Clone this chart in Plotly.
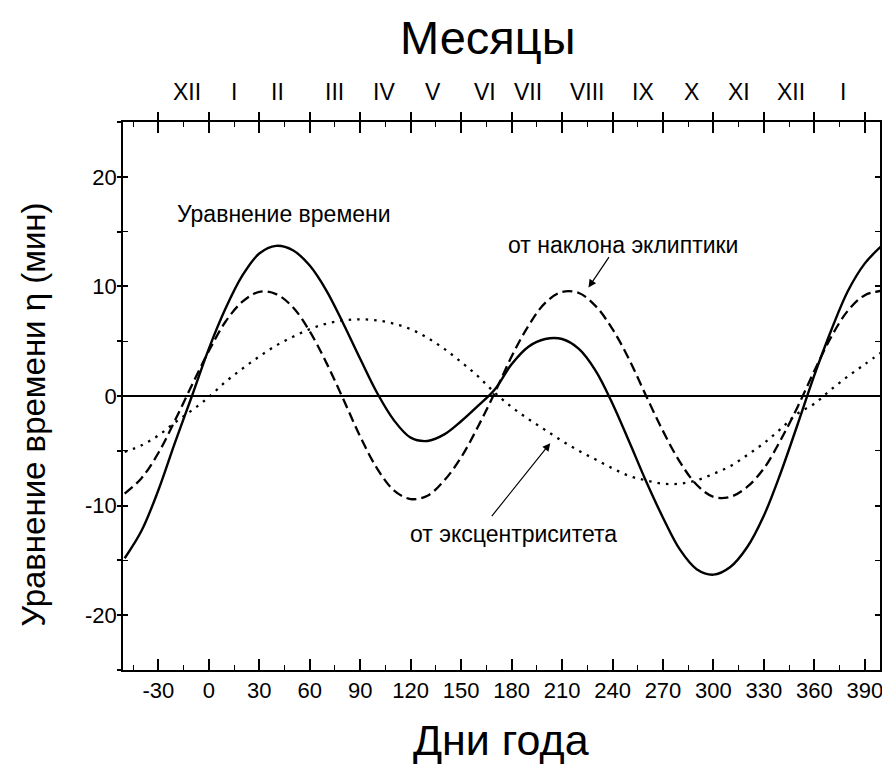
import plotly.graph_objects as go

# ---------------- data ----------------
days = [-50, -40, -30, -20, -10, 0, 10, 20, 30, 40, 50, 60, 70, 80, 90, 100,
        110, 120, 130, 140, 150, 160, 170, 180, 190, 200, 210, 220, 230, 240,
        250, 260, 270, 280, 290, 300, 310, 320, 330, 340, 350, 360, 370, 380,
        390, 400]

equation_of_time = [-14.8, -12.3, -8.6, -4.2, 0.0, 4.3, 8.0, 11.0, 13.0, 13.7,
                    13.3, 11.9, 9.6, 6.6, 3.4, 0.3, -2.2, -3.8, -4.1, -3.5,
                    -2.3, -0.9, 0.6, 2.9, 4.5, 5.2, 5.2, 4.3, 2.3, -0.7,
                    -4.2, -7.8, -11.1, -14.0, -15.8, -16.3, -15.6, -13.8, -10.9, -7.0,
                    -2.6, 1.9, 6.0, 9.6, 12.1, 13.7]

obliquity_part = [-8.9, -7.5, -5.2, -2.2, 1.0, 4.1, 6.8, 8.6, 9.5, 9.3,
                  8.1, 5.9, 3.0, -0.3, -3.7, -6.6, -8.6, -9.4, -9.1, -7.7,
                  -5.6, -2.8, 0.3, 3.6, 6.4, 8.5, 9.5, 9.4, 8.2, 6.1,
                  3.3, 0.0, -3.2, -6.0, -8.1, -9.2, -9.2, -8.3, -6.6, -4.0,
                  -1.0, 2.3, 5.4, 7.8, 9.2, 9.6]

eccentricity_part = [-5.1, -4.5, -3.6, -2.4, -1.3, -0.1, 1.3, 2.5, 3.6, 4.6,
                     5.4, 6.1, 6.6, 6.9, 7.0, 6.9, 6.6, 6.1, 5.3, 4.3,
                     3.1, 1.8, 0.3, -1.0, -2.1, -3.1, -4.1, -5.0, -5.8, -6.6,
                     -7.3, -7.7, -8.0, -8.0, -7.7, -7.1, -6.4, -5.4, -4.3, -3.0,
                     -1.6, -0.7, 0.6, 1.8, 2.9, 4.0]

day_ticks = [-30, 0, 30, 60, 90, 120, 150, 180, 210, 240, 270, 300, 330, 360, 390]
day_tick_labels = [str(v) for v in day_ticks]

eta_ticks = [-20, -10, 0, 10, 20]
eta_tick_labels = ["-20", "-10", "0", "10", "20"]

month_labels = ["XII", "I", "II", "III", "IV", "V", "VI", "VII", "VIII",
                "IX", "X", "XI", "XII", "I"]
month_positions = [-13, 15, 41, 75, 104, 133, 164, 190, 225, 258, 287, 315, 346, 377]

# ---------------- figure ----------------
FONT = "Liberation Sans, Arial, sans-serif"
X_RANGE = [-51, 399]
Y_RANGE = [-25, 25]

fig = go.Figure()

fig.add_trace(go.Scatter(x=days, y=eccentricity_part, mode="lines",
                         line=dict(color="black", width=2.3, dash="2.5px,6px", shape="spline"),
                         showlegend=False, hoverinfo="skip"))
fig.add_trace(go.Scatter(x=days, y=obliquity_part, mode="lines",
                         line=dict(color="black", width=2.3, dash="10px,5px", shape="spline"),
                         showlegend=False, hoverinfo="skip"))
fig.add_trace(go.Scatter(x=days, y=equation_of_time, mode="lines",
                         line=dict(color="black", width=2.4, shape="spline"),
                         showlegend=False, hoverinfo="skip"))
# invisible trace to activate overlay axes (outer ticks)
fig.add_trace(go.Scatter(x=[None], y=[None], xaxis="x2", yaxis="y2",
                         showlegend=False, hoverinfo="skip"))

axis_common = dict(showgrid=False, showline=True, linecolor="black", linewidth=1.5,
                   tickcolor="black", tickwidth=1.5)

# the page body adds an 8px offset, so the figure is 8px smaller than the window
fig.update_layout(
    width=882, height=763,
    paper_bgcolor="white", plot_bgcolor="white",
    margin=dict(l=115, r=7, t=114, b=101),
    font=dict(family=FONT, color="black"),
    xaxis=dict(**axis_common, range=X_RANGE, tickmode="array",
               tickvals=day_ticks, ticktext=day_tick_labels,
               ticks="inside", ticklen=11, mirror="ticks",
               minor=dict(dtick=15, tick0=0, ticks="inside", ticklen=5,
                          tickcolor="black", tickwidth=1.2),
               tickfont=dict(size=22, family=FONT), zeroline=False),
    yaxis=dict(**axis_common, range=Y_RANGE, tickmode="array",
               tickvals=eta_ticks, ticktext=eta_tick_labels,
               ticks="inside", ticklen=5, mirror="ticks",
               minor=dict(dtick=5, tick0=0, ticks="inside", ticklen=5,
                          tickcolor="black", tickwidth=1.2),
               tickfont=dict(size=22, family=FONT),
               zeroline=True, zerolinecolor="black", zerolinewidth=1.5),
    xaxis2=dict(overlaying="x", side="top", anchor="y2", range=X_RANGE,
                showgrid=False, showline=False, zeroline=False,
                tickmode="array", tickvals=day_ticks, showticklabels=False,
                ticks="outside", ticklen=9, tickcolor="black", tickwidth=1.5),
    yaxis2=dict(overlaying="y", side="left", anchor="x2", range=Y_RANGE,
                showgrid=False, showline=False, zeroline=False,
                dtick=5, tick0=0, showticklabels=False,
                ticks="outside", ticklen=5, tickcolor="black", tickwidth=1.5),
)

# month labels on top
for lab, pos in zip(month_labels, month_positions):
    fig.add_annotation(x=pos, y=1, xref="x", yref="y domain", yshift=30,
                       yanchor="middle", text=lab, showarrow=False,
                       font=dict(size=23, family=FONT, color="black"))

# titles (paper coords relative to plot area: x 115..875, y 114..662 in figure px)
fig.add_annotation(x=0.4816, y=1.155, xref="paper", yref="paper",
                   xanchor="center", yanchor="middle",
                   text="Месяцы", showarrow=False,
                   font=dict(size=47, family=FONT, color="black"))
fig.add_annotation(x=0.4987, y=-0.1277, xref="paper", yref="paper",
                   xanchor="center", yanchor="middle",
                   text="Дни года", showarrow=False,
                   font=dict(size=43, family=FONT, color="black"))
fig.add_annotation(x=-0.118, y=0.465, xref="paper", yref="paper",
                   xanchor="center", yanchor="middle",
                   text="Уравнение времени η (мин)", textangle=-90, showarrow=False,
                   font=dict(size=33, family=FONT, color="black"))

# curve labels
fig.add_annotation(x=44.6, y=16.6, xref="x", yref="y", text="Уравнение времени",
                   showarrow=False, font=dict(size=23, family=FONT, color="black"))
fig.add_annotation(x=246.4, y=13.8, xref="x", yref="y", text="от наклона эклиптики",
                   showarrow=False, font=dict(size=23, family=FONT, color="black"))
fig.add_annotation(x=181.3, y=-12.6, xref="x", yref="y", text="от эксцентриситета",
                   showarrow=False, font=dict(size=23, family=FONT, color="black"))

# arrows
fig.add_annotation(x=225.7, y=9.9, ax=238.5, ay=12.8, xref="x", yref="y",
                   axref="x", ayref="y", text="", showarrow=True,
                   arrowhead=2, arrowsize=1.3, arrowwidth=1.2, arrowcolor="black")
fig.add_annotation(x=203, y=-4.3, ax=167.5, ay=-11.1, xref="x", yref="y",
                   axref="x", ayref="y", text="", showarrow=True,
                   arrowhead=2, arrowsize=1.3, arrowwidth=1.2, arrowcolor="black")

fig.write_html("out.html")
